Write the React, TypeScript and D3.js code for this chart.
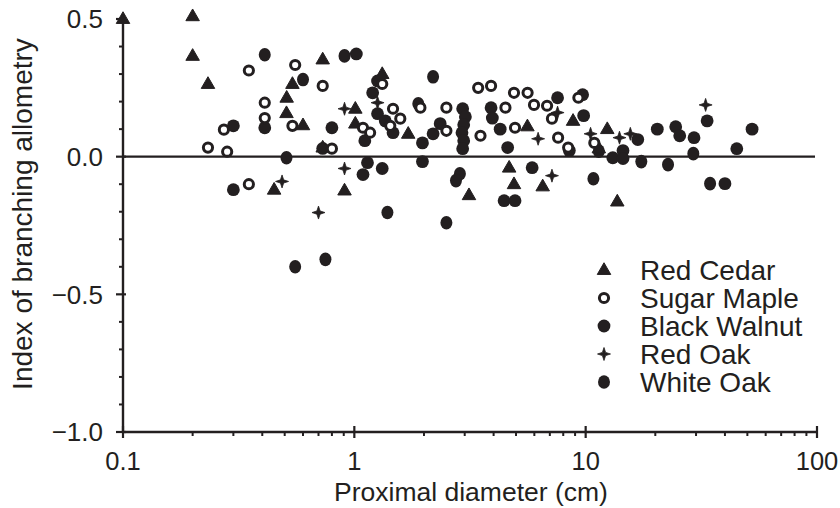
import React from "react";
import * as d3 from "d3";

// Proximal diameter (cm), index of branching allometry
const redCedar: [number, number][] = [
  [0.1, 0.5], [0.2, 0.51], [0.2, 0.366], [0.233, 0.264], [0.51, 0.214], [0.509, 0.158],
  [0.6, 0.114], [0.54, 0.264], [0.73, 0.353], [0.73, 0.033], [0.45, -0.12], [0.907, -0.123],
  [1.32, 0.3], [1.01, 0.174], [1.01, 0.12], [1.71, 0.083], [3.13, -0.14], [4.67, -0.04],
  [4.9, -0.1], [6.52, -0.108], [8.82, 0.13], [12.4, 0.1], [13.7, -0.163], [5.6, 0.11], [11.4, 0.03],
];
const sugarMaple: [number, number][] = [
  [0.35, 0.313], [0.555, 0.333], [0.73, 0.257], [0.41, 0.196], [0.41, 0.14], [0.54, 0.112],
  [0.273, 0.098], [0.233, 0.033], [0.282, 0.018], [0.8, 0.029], [0.35, -0.1], [1.32, 0.264],
  [1.09, 0.105], [1.17, 0.087], [1.47, 0.174], [1.58, 0.138], [1.43, 0.112], [1.93, 0.178],
  [2.5, 0.178], [2.5, 0.094], [3.43, 0.25], [3.9, 0.257], [4.9, 0.232], [5.61, 0.232],
  [5.98, 0.188], [6.81, 0.185], [7.15, 0.138], [4.5, 0.178], [3.51, 0.076], [4.95, 0.105],
  [7.6, 0.069], [8.4, 0.033], [9.3, 0.214], [10.9, 0.05],
];
const blackWalnut: [number, number][] = [
  [1.02, 0.373], [0.41, 0.105], [0.3, 0.112], [0.8, 0.105], [0.3, -0.12], [1.26, 0.275],
  [1.2, 0.232], [1.11, 0.058], [1.26, 0.156], [1.36, 0.13], [1.47, 0.087], [2.35, 0.12],
  [2.19, 0.083], [1.97, 0.05], [2.94, 0.174], [3.02, 0.145], [2.97, 0.116], [2.92, 0.087],
  [2.97, 0.058], [2.94, 0.029], [1.14, -0.022], [1.09, -0.065], [1.32, -0.043], [1.97, -0.018],
  [3.9, 0.178], [3.95, 0.14], [4.27, 0.1], [7.56, 0.214], [4.6, 0.033], [5.87, -0.04],
  [4.44, -0.16], [4.95, -0.16], [8.5, 0.022], [9.7, 0.225], [9.8, 0.149], [14.5, 0.022],
  [13.1, -0.004], [14.5, -0.007], [16.8, 0.062], [20.4, 0.1], [24.5, 0.109], [25.5, 0.076],
  [29.4, 0.069], [33.5, 0.13], [45, 0.029], [52.4, 0.1], [40, -0.098], [0.73, 0.03],
];
const redOak: [number, number][] = [
  [0.907, 0.174], [0.487, -0.09], [0.907, -0.043], [0.7, -0.203], [1.26, 0.196], [7.56, 0.16],
  [6.23, 0.065], [7.15, -0.069], [10.5, 0.083], [14.0, 0.069], [15.6, 0.083], [33, 0.188],
];
const whiteOak: [number, number][] = [
  [0.41, 0.37], [0.6, 0.28], [0.907, 0.366], [0.509, -0.004], [0.555, -0.4], [0.75, -0.373],
  [2.19, 0.29], [1.89, 0.192], [1.39, -0.203], [2.5, -0.24], [2.86, -0.062], [2.75, -0.087],
  [11.4, 0.02], [17.4, -0.018], [22.7, -0.029], [29.2, 0.011], [10.8, -0.08], [34.5, -0.098],
];

const xTicks = [0.1, 1, 10, 100];
const xTickLabels = ["0.1", "1", "10", "100"];
const yTicks = [-1, -0.5, 0, 0.5];
const yTickLabels = ["\u22121.0", "\u22120.5", "0.0", "0.5"];
const legendLabels = ["Red Cedar", "Sugar Maple", "Black Walnut", "Red Oak", "White Oak"];

const INK = "#231f20";
const FONT = "'Liberation Sans', Arial, Helvetica, sans-serif";

function Marker({ kind, x, y }: { kind: number; x: number; y: number }) {
  if (kind === 0) {
    const s = 13.5;
    const h = (s * Math.sqrt(3)) / 2;
    const p = `M${x},${y - h * 0.62}L${x + s / 2},${y + h * 0.38}L${x - s / 2},${y + h * 0.38}Z`;
    return <path d={p} fill={INK} stroke={INK} strokeWidth={1} strokeLinejoin="round" />;
  }
  if (kind === 1) {
    return <circle cx={x} cy={y} r={4.6} fill="#fff" stroke={INK} strokeWidth={3} />;
  }
  if (kind === 2) {
    return <circle cx={x} cy={y} r={6.4} fill={INK} />;
  }
  if (kind === 3) {
    const a = 6.5, b = 1.6;
    const p = `M${x},${y - a}L${x + b},${y - b}L${x + a},${y}L${x + b},${y + b}L${x},${y + a}L${x - b},${y + b}L${x - a},${y}L${x - b},${y - b}Z`;
    return <path d={p} fill={INK} stroke={INK} strokeWidth={0.8} strokeLinejoin="round" />;
  }
  return <ellipse cx={x} cy={y} rx={6} ry={6.8} fill={INK} />;
}

export default function App() {
  const W = 840, H = 508;
  const x = d3.scaleLog().domain([0.1, 100]).range([123, 817]);
  const y = d3.scaleLinear().domain([-1, 0.5]).range([432, 19]);

  const minorX: number[] = [];
  for (const dec of [0.1, 1, 10]) for (let k = 2; k <= 9; k++) minorX.push(dec * k);
  const minorY = d3.range(-10, 6).map((v) => v / 10).filter((v) => Math.abs(v * 2 - Math.round(v * 2)) > 1e-6);

  const series = [redCedar, sugarMaple, blackWalnut, redOak, whiteOak];
  const order = [2, 4, 0, 3, 1];

  return (
    <svg width={W} height={H} style={{ position: "absolute", left: 0, top: 0, background: "#fff" }}>
      <rect width={W} height={H} fill="#fff" />
      {/* zero line */}
      <line x1={x(0.1)} x2={x(100) - 2} y1={y(0)} y2={y(0)} stroke={INK} strokeWidth={2.4} />
      {/* y axis */}
      <line x1={x(0.1)} x2={x(0.1)} y1={y(-1)} y2={y(0.5)} stroke={INK} strokeWidth={2.4} />
      {minorY.map((v) => (
        <line key={"my" + v} x1={x(0.1) - 4} x2={x(0.1)} y1={y(v)} y2={y(v)} stroke={INK} strokeWidth={2} />
      ))}
      {yTicks.map((v, i) => (
        <g key={"y" + v}>
          <line x1={x(0.1) - 7} x2={x(0.1) + 3} y1={y(v)} y2={y(v)} stroke={INK} strokeWidth={2.2} />
          <text x={103} y={y(v)} dy="0.36em" textAnchor="end" fontFamily={FONT} fontSize={26} fill={INK}>
            {yTickLabels[i]}
          </text>
        </g>
      ))}
      {/* x axis */}
      <line x1={x(0.1)} x2={x(100)} y1={y(-1)} y2={y(-1)} stroke={INK} strokeWidth={2.4} />
      {minorX.map((v) => (
        <line key={"mx" + v} x1={x(v)} x2={x(v)} y1={y(-1)} y2={y(-1) + 4} stroke={INK} strokeWidth={2} />
      ))}
      {xTicks.map((v, i) => (
        <g key={"x" + v}>
          <line x1={x(v)} x2={x(v)} y1={y(-1) - 6} y2={y(-1) + 6} stroke={INK} strokeWidth={2.2} />
          <text x={x(v)} y={470} textAnchor="middle" fontFamily={FONT} fontSize={25.5} fill={INK}>
            {xTickLabels[i]}
          </text>
        </g>
      ))}
      <text x={471} y={501} textAnchor="middle" fontFamily={FONT} fontSize={26.5} fill={INK}>
        Proximal diameter (cm)
      </text>
      <text
        transform={`translate(32,214) rotate(-90)`}
        textAnchor="middle"
        fontFamily={FONT}
        fontSize={28}
        fill={INK}
      >
        Index of branching allometry
      </text>
      {/* points */}
      {order.map((si) =>
        series[si].map((d, j) => <Marker key={si + "-" + j} kind={si} x={x(d[0])} y={y(d[1])} />)
      )}
      {/* legend */}
      {legendLabels.map((lab, i) => (
        <g key={lab}>
          <Marker kind={i} x={604} y={270 + i * 28} />
          <text x={640} y={270 + i * 28} dy="0.36em" fontFamily={FONT} fontSize={28} fill={INK}>
            {lab}
          </text>
        </g>
      ))}
    </svg>
  );
}
